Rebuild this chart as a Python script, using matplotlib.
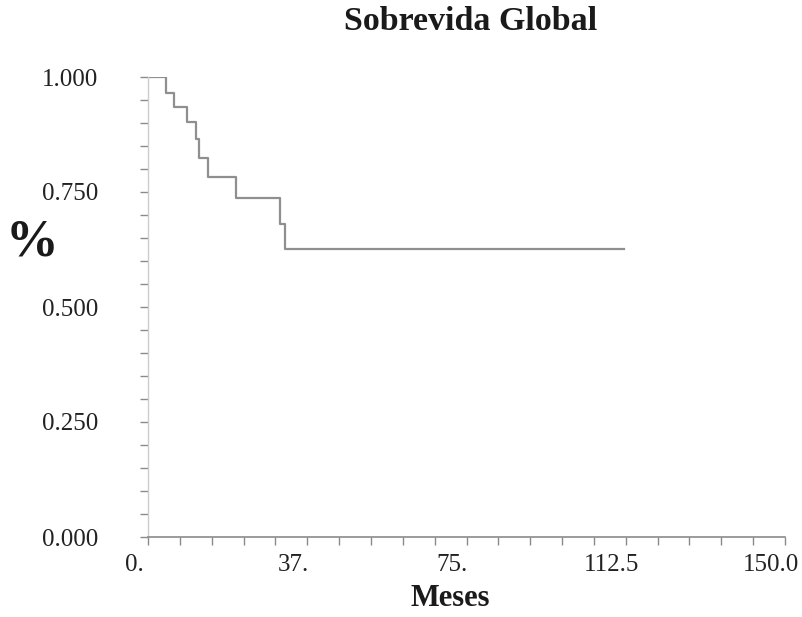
import matplotlib
matplotlib.use("Agg")
import matplotlib.pyplot as plt
import matplotlib.transforms as mtransforms
import numpy as np

# Kaplan-Meier style step data (months, survival)
times = [0.0, 4.2, 6.2, 9.3, 11.2, 12.1, 14.2, 20.8, 31.2, 32.2]
surv = [1.000, 0.966, 0.934, 0.902, 0.865, 0.823, 0.782, 0.738, 0.680, 0.626]
end_time = 112.1

xticks = [0, 37.5, 75, 112.5, 150]
xticklabels = ["0.", "37.", "75.", "112.5", "150.0"]
yticks = [0.0, 0.25, 0.5, 0.75, 1.0]
yticklabels = ["0.000", "0.250", "0.500", "0.750", "1.000"]

plt.rcParams['font.family'] = ['Liberation Serif', 'DejaVu Serif']

fig = plt.figure(figsize=(8.02, 6.17), dpi=100)
ax = fig.add_axes([148/802, 1-537/617, (785-148)/802, (537-77)/617])

xs = times + [end_time]
ys = surv + [surv[-1]]
ax.step(xs, ys, where='post', color='#8f8f8f', lw=1.6)

ax.set_xlim(0, 150)
ax.set_ylim(0, 1.0)
ax.spines['top'].set_visible(False)
ax.spines['right'].set_visible(False)
ax.spines['left'].set_color('#cccccc')
ax.spines['left'].set_linewidth(1.0)
ax.spines['bottom'].set_color('#8a8a8a')
ax.spines['bottom'].set_linewidth(1.2)
ax.spines['left'].set_bounds(0, 1.0)

ax.set_xticks(np.arange(0, 150.01, 7.5), minor=True)
ax.set_xticks(xticks)
ax.set_xticklabels(xticklabels, fontsize=18, color='#222222')
ax.set_yticks(np.arange(0, 1.0001, 0.05), minor=True)
ax.set_yticks(yticks)
ax.set_yticklabels(yticklabels, fontsize=18, color='#222222')

ax.tick_params(axis='x', which='both', direction='out', length=6, color='#8a8a8a', width=1.0, pad=6)
ax.tick_params(axis='y', which='both', direction='out', length=6, color='#8a8a8a', width=1.0, pad=30)

offset = mtransforms.ScaledTranslation(-14/100, 0, fig.dpi_scale_trans)
for lab in ax.get_xticklabels():
    lab.set_transform(lab.get_transform() + offset)

fig.text(471/802, 1-22/617, "Sobrevida Global", ha='center', va='center',
         fontsize=24.5, fontweight='bold', color='#1a1a1a')
fig.text(450/802, 1-598/617, "Meses", ha='center', va='center',
         fontsize=22, fontweight='bold', color='#1a1a1a')
fig.text(32/802, 1-243/617, "%", ha='center', va='center',
         fontsize=38, fontweight='bold', color='#1a1a1a')

fig.savefig("out.png", dpi=100, facecolor='white')
